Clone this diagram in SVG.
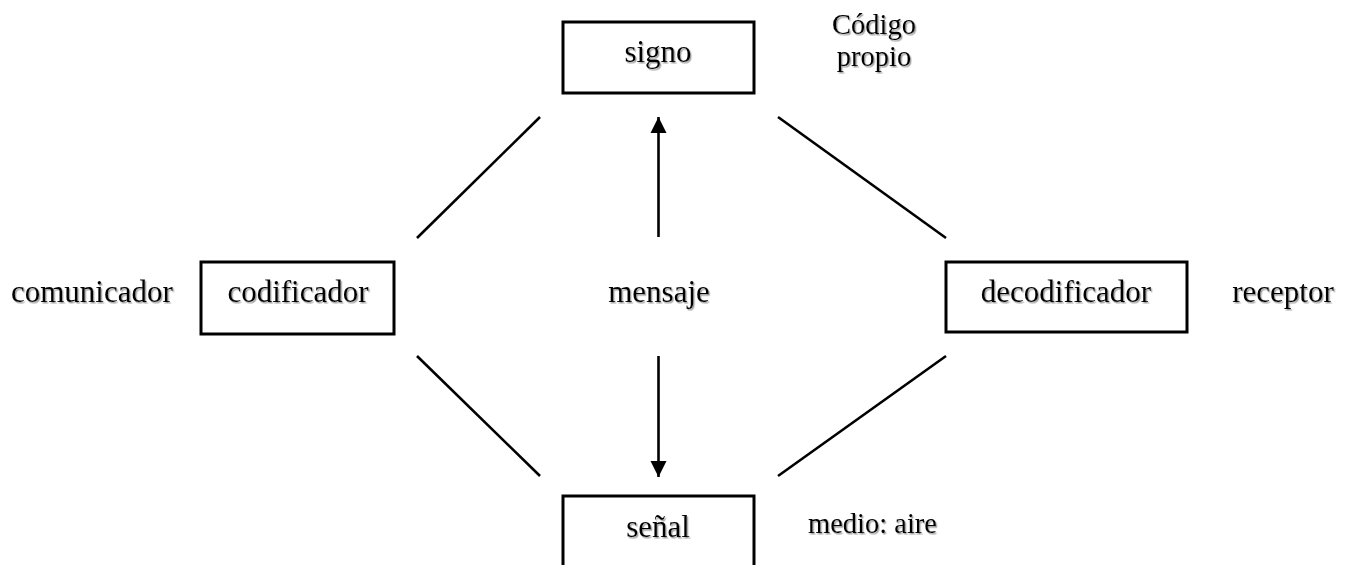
<svg xmlns="http://www.w3.org/2000/svg" width="1351" height="565" viewBox="0 0 1351 565">
<style>
.box{fill:#fff;stroke:#000;stroke-width:3}
.t{font-family:"Liberation Serif","Times New Roman",serif;font-size:31px;fill:#000;filter:url(#sh)}
.s{font-size:28.5px}
.c{text-anchor:middle}
.ln{stroke:#000;stroke-width:2.6;fill:none}
</style>
<defs>
<filter id="sh" x="-10%" y="-20%" width="120%" height="150%">
<feDropShadow dx="1.3" dy="1.5" stdDeviation="0.6" flood-color="#888" flood-opacity="0.8"/>
</filter>
<marker id="ah" viewBox="0 0 10 10" refX="10" refY="5" markerWidth="16" markerHeight="17" markerUnits="userSpaceOnUse" orient="auto">
<path d="M0,0 L10,5 L0,10 z" fill="#000"/>
</marker>
</defs>
<rect width="1351" height="565" fill="#fff"/>
<g id="connectors">
<line class="ln" x1="540" y1="117" x2="417" y2="238"/>
<line class="ln" x1="778" y1="117" x2="946" y2="238"/>
<line class="ln" x1="417" y1="356" x2="540" y2="476"/>
<line class="ln" x1="946" y1="356" x2="778" y2="476"/>
<line class="ln" x1="658.5" y1="237" x2="658.5" y2="117" marker-end="url(#ah)"/>
<line class="ln" x1="658.5" y1="356" x2="658.5" y2="477" marker-end="url(#ah)"/>
</g>
<g id="signo">
<rect class="box" x="563" y="22" width="191" height="71"/>
<text class="t c" x="658" y="62">signo</text>
</g>
<g id="codigo-propio">
<text class="t s c" x="874" y="34">Código</text>
<text class="t s c" x="874" y="66">propio</text>
</g>
<g id="codificador">
<rect class="box" x="201" y="262" width="193" height="72"/>
<text class="t c" x="298" y="302">codificador</text>
</g>
<g id="comunicador">
<text class="t" x="11" y="302">comunicador</text>
</g>
<g id="mensaje">
<text class="t c" x="659" y="302">mensaje</text>
</g>
<g id="decodificador">
<rect class="box" x="946" y="262" width="241" height="70"/>
<text class="t c" x="1066" y="302">decodificador</text>
</g>
<g id="receptor">
<text class="t c" x="1283" y="302">receptor</text>
</g>
<g id="senal">
<rect class="box" x="563" y="496" width="191" height="80"/>
<text class="t c" x="658" y="537">señal</text>
</g>
<g id="medio">
<text class="t s" x="808" y="533">medio: aire</text>
</g>
</svg>
